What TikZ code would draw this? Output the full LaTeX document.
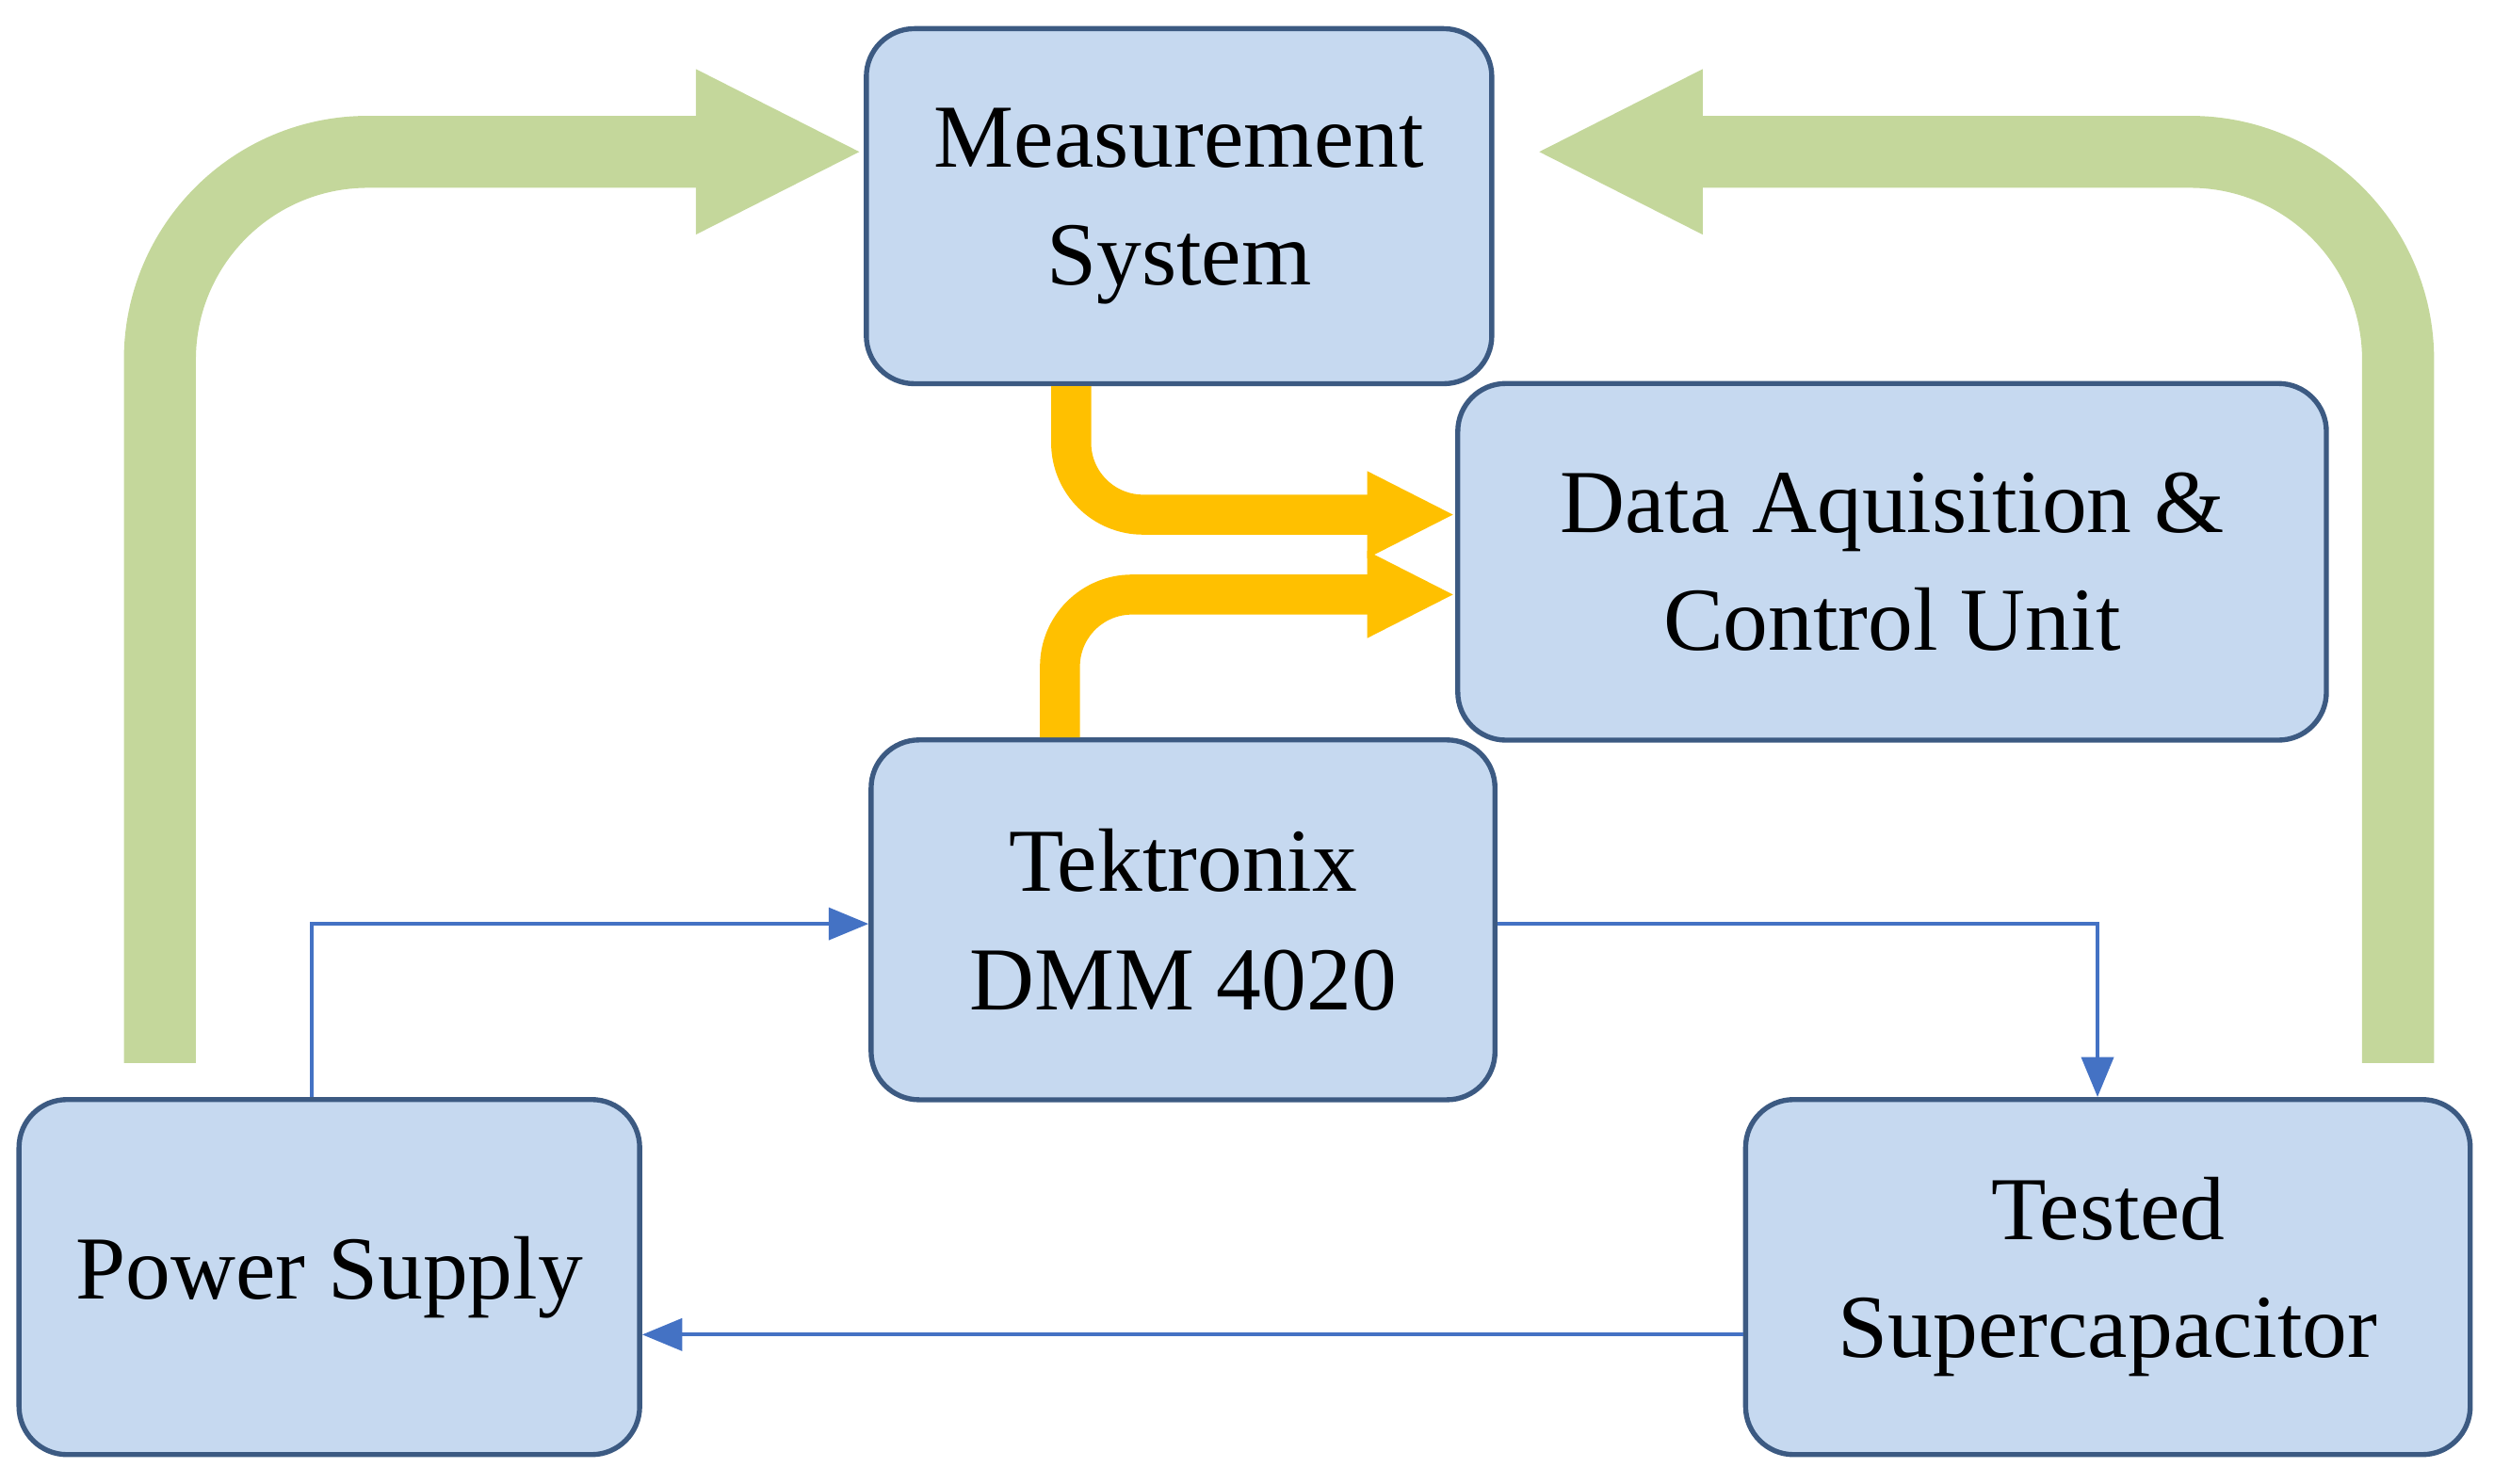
\documentclass[tikz,border=0pt]{standalone}
\usepackage{fontspec}
\setmainfont{Liberation Serif}
\usetikzlibrary{arrows.meta}

\definecolor{boxfill}{RGB}{198,217,240}
\definecolor{boxline}{RGB}{60,90,130}
\definecolor{greenarrow}{RGB}{196,215,155}
\definecolor{orangearrow}{RGB}{255,192,0}
\definecolor{bluearrow}{RGB}{68,114,196}

\tikzset{
    block/.style={draw=boxline, fill=boxfill, line width=0.9pt, rounded corners=0.3cm,
        align=center, font=\fontsize{16}{21}\selectfont, inner sep=0pt},
    bigflow/.style={draw=greenarrow, line width=0.45cm, rounded corners=1.3cm,
        -{Triangle[length=1.05cm 0 0, width=0.95cm 0 0]}},
    dataflow/.style={draw=orangearrow, line width=0.25cm, rounded corners=0.45cm,
        -{Triangle[length=0.55cm 0 0, width=0.5cm 0 0]}},
    wire/.style={draw=bluearrow, line width=0.7pt, -{Triangle[length=0.25cm 0 0, width=0.2cm 0 0]}}
}

\begin{document}
\begin{tikzpicture}[x=0.01cm, y=-0.01cm]

    \useasboundingbox (0,0) rectangle (1560,928);

    \node[block, minimum width=3.91cm, minimum height=2.22cm] (meas) at (737.5,129) {Measurement\\System};
    \node[block, minimum width=5.43cm, minimum height=2.23cm] (daq) at (1183.5,351.5) {Data Aquisition \&\\Control Unit};
    \node[block, minimum width=3.9cm, minimum height=2.25cm] (dmm) at (740,575.5) {Tektronix\\DMM 4020};
    \node[block, minimum width=3.88cm, minimum height=2.22cm] (psu) at (206,799) {Power Supply};
    \node[block, minimum width=4.53cm, minimum height=2.22cm] (cap) at (1318.5,799) {Tested\\Supercapacitor};

    % free ends of the wide arrows
    \coordinate (psuout) at (100,665);
    \coordinate (capout) at (1500,665);

    \draw[bigflow] (psuout) -- (100,95) -- (meas.west |- 0,95);
    \draw[bigflow] (capout) -- (1500,95) -- (960,95);

    \draw[dataflow] (meas.south -| 670,0) -- (670,322) -- (daq.west |- 0,322);
    \draw[dataflow] (dmm.north -| 663,0) -- (663,372) -- (daq.west |- 0,372);

    \draw[wire] (psu.north -| 195,0) -- (195,578) -- (dmm.west |- 0,578);
    \draw[wire] (dmm.east |- 0,578) -- (1312,578) -- (cap.north -| 1312,0);
    \draw[wire] (cap.west |- 0,835) -- (psu.east |- 0,835);

\end{tikzpicture}
\end{document}
